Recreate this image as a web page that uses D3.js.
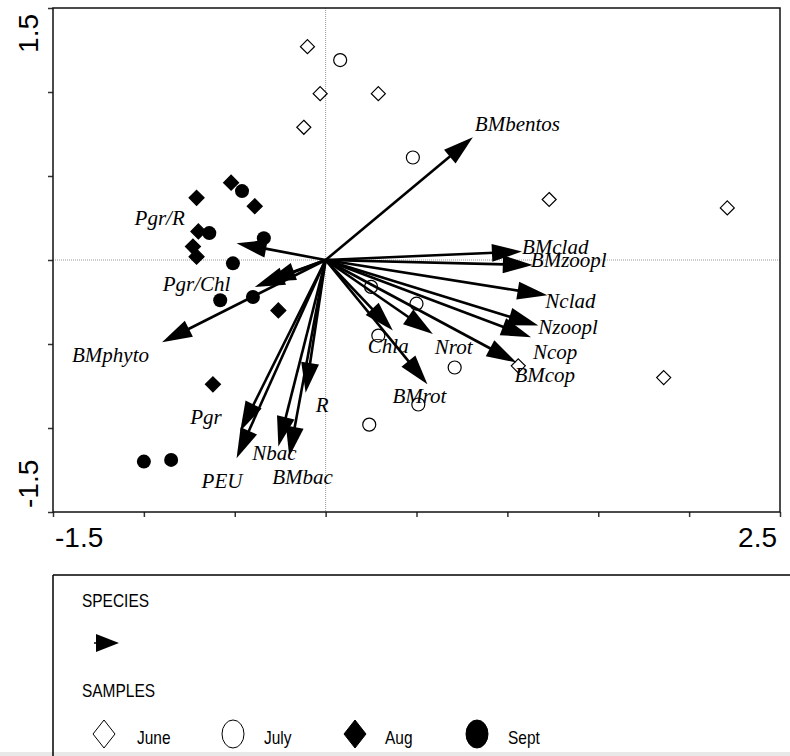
<!DOCTYPE html>
<html>
<head>
<meta charset="utf-8">
<script src="https://cdn.jsdelivr.net/npm/d3@7"></script>
<style>
  body { margin: 0; background: #fff; }
  svg { display: block; }
  .lab { font-family: "Liberation Serif", "Times New Roman", serif; font-style: italic; font-size: 21px; }
  .tick-lab { font-family: "Liberation Sans", Arial, sans-serif; font-size: 28px; }
  .leg { font-family: "Liberation Sans", Arial, sans-serif; font-size: 18px; }
</style>
</head>
<body>
<svg id="chart" width="790" height="756"></svg>
<script>
// sample scores per month (axis 1, axis 2)
var juneX = [-0.10, -0.03, 0.29, -0.12, 1.23, 2.21, 1.06, 1.86];
var juneY = [1.27, 0.99, 0.99, 0.79, 0.36, 0.31, -0.63, -0.70];
var julyX = [0.08, 0.48, 0.25, 0.50, 0.29, 0.71, 0.51, 0.24];
var julyY = [1.19, 0.61, -0.16, -0.26, -0.45, -0.64, -0.86, -0.98];
var augX = [-0.52, -0.71, -0.39, -0.70, -0.73, -0.71, -0.26, -0.62];
var augY = [0.46, 0.37, 0.32, 0.17, 0.08, 0.02, -0.30, -0.74];
var septX = [-0.46, -0.64, -0.34, -0.51, -0.58, -0.40, -1.00, -0.85];
var septY = [0.41, 0.16, 0.13, -0.02, -0.24, -0.22, -1.20, -1.19];

// species / variable arrows
var varNames = ['BMbentos', 'BMclad', 'BMzoopl', 'Nclad', 'Nzoopl', 'Ncop', 'BMcop', 'Nrot', 'Chla',
                'BMrot', 'R', 'Nbac', 'BMbac', 'Pgr', 'PEU', 'BMphyto', 'Pgr/Chl', '', 'Pgr/R'];
var varX = [0.81, 1.08, 1.14, 1.22, 1.17, 1.13, 1.05, 0.59, 0.37,
            0.56, -0.11, -0.26, -0.20, -0.47, -0.49, -0.90, -0.39, -0.33, -0.49];
var varY = [0.73, 0.05, -0.03, -0.21, -0.39, -0.46, -0.61, -0.44, -0.42,
            -0.74, -0.79, -1.11, -1.17, -1.02, -1.18, -0.49, -0.16, -0.13, 0.10];

var xTicks = [-1.5, -1.0, -0.5, 0, 0.5, 1.0, 1.5, 2.0, 2.5];
var yTicks = [-1.5, -1.0, -0.5, 0, 0.5, 1.0, 1.5];
var months = ['June', 'July', 'Aug', 'Sept'];

// label placement relative to arrow tip (px)
var labelNudge = {
  'BMbentos': [2, -6], 'BMclad': [0, 2], 'BMzoopl': [-2, 2], 'Nclad': [-2, 13],
  'Nzoopl': [0, 8], 'Ncop': [2, 22], 'BMcop': [-2, 20], 'Nrot': [2, 20], 'Chla': [-25, 22],
  'BMrot': [-35, 19], 'R': [10, 19], 'Nbac': [-26, 14], 'BMbac': [-17, 27], 'Pgr': [-50, -7],
  'PEU': [-35, 30], 'BMphyto': [-90, 20], 'Pgr/Chl': [-92, 4], 'Pgr/R': [-102, -18]
};

var svg = d3.select('#chart');
var plotL = 53, plotR = 780, plotT = 8, plotB = 512;

var x = d3.scaleLinear().domain([-1.5, 2.5]).range([plotL, plotR]);
var y = d3.scaleLinear().domain([-1.5, 1.5]).range([plotB, plotT]);

// zero lines
svg.append('line')
    .attr('x1', x(0)).attr('x2', x(0)).attr('y1', plotT).attr('y2', plotB)
    .attr('stroke', '#999').attr('stroke-width', 1).attr('stroke-dasharray', '1,1');
svg.append('line')
    .attr('x1', plotL).attr('x2', plotR).attr('y1', y(0)).attr('y2', y(0))
    .attr('stroke', '#999').attr('stroke-width', 1).attr('stroke-dasharray', '1,1');

// axes
svg.append('g')
    .attr('transform', 'translate(0,' + plotB + ')')
    .call(d3.axisBottom(x).tickValues(xTicks).tickSize(5).tickFormat(''));
svg.append('g')
    .attr('transform', 'translate(' + plotL + ',0)')
    .call(d3.axisLeft(y).tickValues(yTicks).tickSize(5).tickFormat(''));
svg.selectAll('.domain').remove();
svg.selectAll('.tick line').attr('stroke', '#333').attr('stroke-width', 1.5);

// frame
svg.append('rect')
    .attr('x', plotL).attr('y', plotT)
    .attr('width', plotR - plotL).attr('height', plotB - plotT)
    .attr('fill', 'none').attr('stroke', '#111').attr('stroke-width', 1.5);

// end tick labels
svg.append('text').attr('class', 'tick-lab')
    .attr('x', x(xTicks[0]) + 2).attr('y', 547).text('-1.5');
svg.append('text').attr('class', 'tick-lab').attr('text-anchor', 'end')
    .attr('x', x(xTicks[xTicks.length - 1]) - 3).attr('y', 547).text('2.5');
svg.append('text').attr('class', 'tick-lab').attr('text-anchor', 'end')
    .attr('transform', 'translate(38,' + (y(yTicks[yTicks.length - 1]) + 6) + ') rotate(-90)')
    .text('1.5');
svg.append('text').attr('class', 'tick-lab')
    .attr('transform', 'translate(38,' + (y(yTicks[0]) - 4) + ') rotate(-90)')
    .text('-1.5');

// arrows
var headLen = 30, headHalf = 9;
var arrows = svg.append('g');
varNames.forEach(function(name, i) {
  var x0 = x(0), y0 = y(0), x1 = x(varX[i]), y1 = y(varY[i]);
  var dx = x1 - x0, dy = y1 - y0, len = Math.sqrt(dx * dx + dy * dy);
  var ux = dx / len, uy = dy / len;
  var bx = x1 - ux * headLen, by = y1 - uy * headLen;
  arrows.append('line')
      .attr('x1', x0).attr('y1', y0).attr('x2', bx + ux * 2).attr('y2', by + uy * 2)
      .attr('stroke', '#000').attr('stroke-width', 2.6);
  arrows.append('path')
      .attr('d', 'M' + x1 + ',' + y1 +
                 'L' + (bx - uy * headHalf) + ',' + (by + ux * headHalf) +
                 'L' + (bx + uy * headHalf) + ',' + (by - ux * headHalf) + 'Z')
      .attr('fill', '#000');
  if (name) {
    var n = labelNudge[name];
    arrows.append('text').attr('class', 'lab')
        .attr('x', x1 + n[0]).attr('y', y1 + n[1]).text(name);
  }
});

// samples
function diamond(g, cx, cy, r, filled) {
  g.append('path')
      .attr('d', 'M' + cx + ',' + (cy - r) + 'L' + (cx + r) + ',' + cy +
                 'L' + cx + ',' + (cy + r) + 'L' + (cx - r) + ',' + cy + 'Z')
      .attr('fill', filled ? '#000' : 'none')
      .attr('stroke', '#000').attr('stroke-width', 1.2);
}
var pts = svg.append('g');
juneX.forEach(function(v, i) { diamond(pts, x(v), y(juneY[i]), 7, false); });
augX.forEach(function(v, i) { diamond(pts, x(v), y(augY[i]), 7.5, true); });
pts.selectAll('.july').data(julyX).enter().append('circle')
    .attr('cx', function(d) { return x(d); })
    .attr('cy', function(d, i) { return y(julyY[i]); })
    .attr('r', 6.5).attr('fill', 'none').attr('stroke', '#000').attr('stroke-width', 1.2);
pts.selectAll('.sept').data(septX).enter().append('circle')
    .attr('cx', function(d) { return x(d); })
    .attr('cy', function(d, i) { return y(septY[i]); })
    .attr('r', 7).attr('fill', '#000');

// legend
var leg = svg.append('g');
leg.append('rect').attr('x', 0).attr('y', 752).attr('width', 790).attr('height', 4).attr('fill', '#e8e8e8');
leg.append('line').attr('x1', 53).attr('x2', 790).attr('y1', 575).attr('y2', 575)
    .attr('stroke', '#000').attr('stroke-width', 1.5);
leg.append('line').attr('x1', 53).attr('x2', 53).attr('y1', 575).attr('y2', 756)
    .attr('stroke', '#000').attr('stroke-width', 1.5);

function legText(tx, ty, s) {
  leg.append('text').attr('class', 'leg')
      .attr('transform', 'translate(' + tx + ',' + ty + ') scale(0.86,1)')
      .text(s);
}
legText(82, 607, 'SPECIES');
legText(82, 697, 'SAMPLES');

leg.append('line').attr('x1', 94).attr('x2', 98).attr('y1', 643).attr('y2', 643)
    .attr('stroke', '#000').attr('stroke-width', 1.5);
leg.append('path').attr('d', 'M96,634L119,643L96,652Z').attr('fill', '#000');

var legX = [104, 233, 355, 477];
var textX = [137, 264, 385, 508];
var ly = 734;
months.forEach(function(m, i) {
  var cx = legX[i];
  if (i === 0 || i === 2) {
    leg.append('path')
        .attr('d', 'M' + cx + ',' + (ly - 14) + 'L' + (cx + 11) + ',' + ly +
                   'L' + cx + ',' + (ly + 14) + 'L' + (cx - 11) + ',' + ly + 'Z')
        .attr('fill', i === 2 ? '#000' : '#fff').attr('stroke', '#000').attr('stroke-width', 1);
  } else {
    leg.append('ellipse').attr('cx', cx).attr('cy', ly).attr('rx', 11).attr('ry', 14)
        .attr('fill', i === 3 ? '#000' : '#fff').attr('stroke', '#000').attr('stroke-width', 1);
  }
  legText(textX[i], 744, m);
});
</script>
</body>
</html>
